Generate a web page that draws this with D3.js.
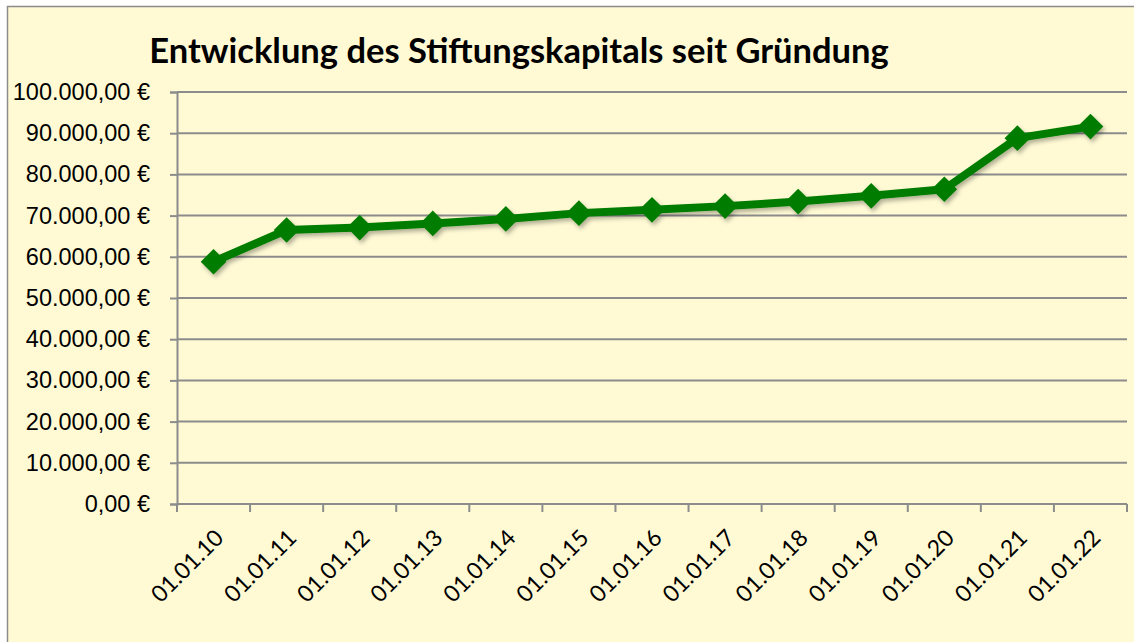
<!DOCTYPE html>
<html>
<head>
<meta charset="utf-8">
<script src="https://cdn.jsdelivr.net/npm/d3@7"></script>
<style>
  body { margin: 0; background: #fff; }
  svg { display: block; font-family: Lato, "Open Sans", sans-serif; }
</style>
</head>
<body>
<div id="chart"></div>
<script>
var dates = ["01.01.10", "01.01.11", "01.01.12", "01.01.13", "01.01.14", "01.01.15", "01.01.16",
             "01.01.17", "01.01.18", "01.01.19", "01.01.20", "01.01.21", "01.01.22"];
var kapital = [58800, 66500, 67100, 68100, 69200, 70600, 71400, 72300, 73400, 74800, 76400, 88800, 91600];
var yTicks = [0, 10000, 20000, 30000, 40000, 50000, 60000, 70000, 80000, 90000, 100000];

var width = 1134, height = 642;
var margin = {top: 92, right: 7, bottom: 138, left: 177};
var innerW = width - margin.left - margin.right,
    innerH = height - margin.top - margin.bottom;

var svg = d3.select("#chart").append("svg")
    .attr("width", width)
    .attr("height", height);

var defs = svg.append("defs");
var f = defs.append("filter").attr("id", "shadow")
    .attr("x", "-30%").attr("y", "-30%").attr("width", "160%").attr("height", "160%");
f.append("feDropShadow").attr("dx", 2).attr("dy", 3).attr("stdDeviation", 2)
    .attr("flood-color", "#000").attr("flood-opacity", 0.3);

svg.append("rect")
    .attr("x", 7.5).attr("y", 6.5)
    .attr("width", width).attr("height", height)
    .attr("fill", "#fffad4")
    .attr("stroke", "#8c8c8c").attr("stroke-width", 1.5);

svg.append("text")
    .attr("x", 519).attr("y", 63)
    .attr("text-anchor", "middle")
    .style("font-size", "34.5px").style("font-weight", "bold")
    .text("Entwicklung des Stiftungskapitals seit Gründung");

var g = svg.append("g").attr("transform", "translate(" + margin.left + "," + margin.top + ")");

var x = d3.scaleBand().domain(dates).range([0, innerW]);
var y = d3.scaleLinear().domain([0, 100000]).range([innerH, 0]);

var fmt = function(v) {
  return v.toLocaleString("de-DE", {minimumFractionDigits: 2, maximumFractionDigits: 2}) + " €";
};

// grid
g.append("g").selectAll("line").data(yTicks.slice(1)).enter().append("line")
    .attr("x1", 0).attr("x2", innerW)
    .attr("y1", function(d) { return y(d); }).attr("y2", function(d) { return y(d); })
    .attr("stroke", "#8c8c8c").attr("stroke-width", 2);

var yAxis = g.append("g")
    .call(d3.axisLeft(y).tickValues(yTicks).tickFormat(fmt).tickSize(7).tickPadding(20));
yAxis.select(".domain").attr("stroke", "#8c8c8c").attr("stroke-width", 2);
yAxis.selectAll(".tick line").attr("stroke", "#8c8c8c").attr("stroke-width", 2);
yAxis.selectAll("text").style("font-size", "23.5px").attr("fill", "#000");

// x axis with ticks at band boundaries
var xAxis = g.append("g").attr("transform", "translate(0," + innerH + ")");
xAxis.append("line").attr("x1", 0).attr("x2", innerW)
    .attr("stroke", "#8c8c8c").attr("stroke-width", 2);
var bounds = dates.map(function(d) { return x(d); }).concat([innerW]);
xAxis.selectAll(".tk").data(bounds).enter().append("line")
    .attr("x1", function(d) { return d; }).attr("x2", function(d) { return d; })
    .attr("y1", 0).attr("y2", 8)
    .attr("stroke", "#8c8c8c").attr("stroke-width", 2);
xAxis.selectAll(".lbl").data(dates).enter().append("text")
    .attr("transform", function(d) {
      return "translate(" + (x(d) + x.bandwidth() / 2 + 0) + ",24) rotate(-45)";
    })
    .attr("text-anchor", "end")
    .attr("dy", "0.7em")
    .style("font-size", "23px")
    .text(function(d) { return d; });

var line = d3.line()
    .x(function(d, i) { return x(dates[i]) + x.bandwidth() / 2; })
    .y(function(d) { return y(d); });

var series = g.append("g").attr("filter", "url(#shadow)");
series.append("path")
    .datum(kapital)
    .attr("d", line)
    .attr("fill", "none")
    .attr("stroke", "#007c00")
    .attr("stroke-width", 8)
    .attr("stroke-linejoin", "round");

series.selectAll(".pt").data(kapital).enter().append("path")
    .attr("d", d3.symbol().type(d3.symbolDiamond2).size(420))
    .attr("transform", function(d, i) {
      return "translate(" + (x(dates[i]) + x.bandwidth() / 2) + "," + y(d) + ")";
    })
    .attr("fill", "#007c00");
</script>
</body>
</html>
